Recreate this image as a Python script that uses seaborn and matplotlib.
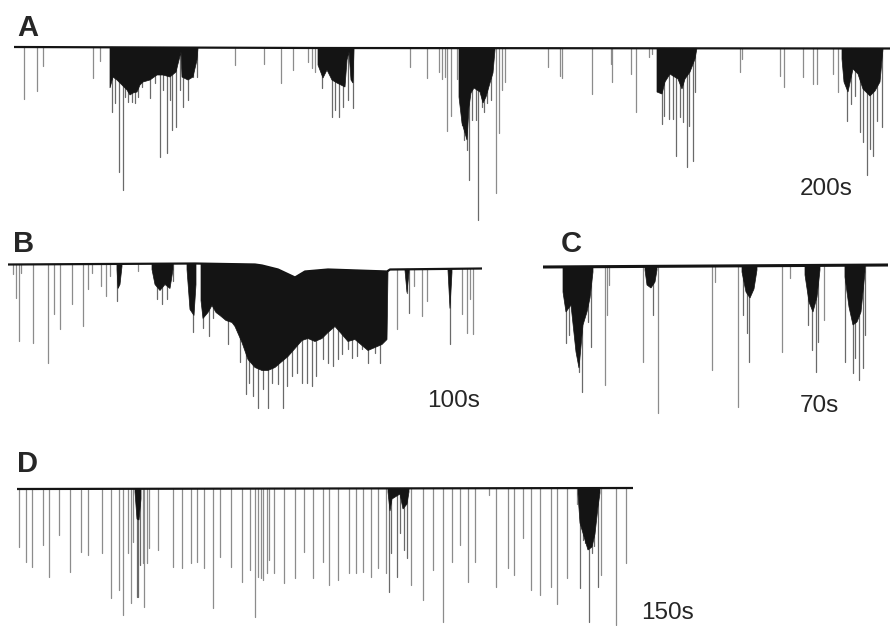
import numpy as np
import pandas as pd
import matplotlib
matplotlib.use("Agg")
import matplotlib.pyplot as plt
import seaborn as sns

# ---------------- data (time in trace units from sweep start, amplitude negative = inward) -------------
# Panel A
A_spike_t = [10, 23, 29, 79, 86,
             98, 101, 105, 109, 111, 114, 118, 121, 124, 128, 136, 141, 146, 149, 153, 156, 158, 162, 166, 169, 174, 179, 183,
             221, 250, 267, 279, 294, 298, 301,
             308, 318, 321, 325, 329, 334, 339,
             396, 413, 425, 428, 431, 433, 437, 443,
             448, 450, 453, 455, 458, 462, 464, 468, 470, 473, 477, 482, 485, 488, 491,
             534, 546, 548, 578, 597, 598, 617, 622, 635, 638,
             648, 650, 655, 659, 662, 666, 669, 673, 675, 679, 681,
             726, 728, 766, 770, 789, 799, 803, 819, 824,
             833, 837, 841, 846, 849, 853, 856, 859, 863, 868]
A_spike_amp = [-52, -44, -19, -31, -14,
               -65, -56, -125, -143, -50, -55, -55, -56, -50, -40, -51, -36, -110, -43, -106, -53, -83, -80, -43, -60, -53, -30, -30,
               -18, -17, -36, -23, -15, -21, -25,
               -41, -70, -63, -70, -60, -53, -61,
               -20, -31, -25, -32, -30, -84, -69, -32,
               -78, -93, -103, -133, -73, -73, -173, -60, -65, -56, -53, -146, -86, -43, -35,
               -20, -29, -31, -47, -17, -35, -27, -65, -10, -7,
               -77, -69, -72, -72, -109, -70, -75, -120, -79, -114, -45,
               -25, -12, -29, -40, -30, -37, -37, -27, -45,
               -74, -57, -49, -85, -95, -128, -102, -109, -74, -80]
A_burst_t = [[96, 99, 103, 108, 113, 116, 119, 123, 126, 129, 136, 143, 149, 156, 162, 165, 167, 168, 174, 179, 183, 184],
             [304, 309, 313, 318, 323, 327, 331, 333, 335, 337, 339, 340],
             [445, 448, 451, 453, 455, 457, 460, 463, 466, 469, 472, 476, 479, 481],
             [643, 648, 651, 656, 659, 664, 668, 671, 676, 681, 683],
             [828, 830, 834, 839, 844, 849, 856, 861, 866, 869]]
A_burst_amp = [[-41, -30, -33, -38, -43, -48, -46, -45, -38, -35, -33, -28, -28, -30, -25, -13, -5, -30, -33, -30, -13, -1],
               [-18, -31, -23, -33, -36, -38, -40, -13, -5, -33, -36, -3],
               [-50, -76, -86, -93, -60, -46, -41, -43, -45, -56, -50, -36, -26, -3],
               [-45, -47, -35, -27, -29, -32, -42, -32, -25, -12, -1],
               [-12, -35, -45, -22, -27, -42, -49, -44, -35, -2]]
A_base_t = [0, 300, 876]
A_base_amp = [0, -1, -1.5]

# Panel B
B_spike_t = [5, 8, 11, 13, 25, 40, 46, 52, 64, 75, 80, 84, 93, 98, 102, 109, 130, 149, 154, 159, 162, 165, 185,
             195, 201, 205, 212, 220, 224, 232, 238, 241, 245, 250, 255, 260, 264, 270, 275, 279, 284, 289, 294,
             299, 304, 308, 315, 320, 325, 330, 334, 340, 344, 349, 354, 360, 367, 372, 375,
             389, 399, 401, 406, 414, 419, 442, 454, 459, 462, 465]
B_spike_amp = [-9, -33, -76, -8, -78, -98, -49, -64, -39, -61, -24, -8, -21, -31, -11, -36, -6, -34, -39, -34, -16, -16, -67,
               -63, -71, -53, -46, -79, -53, -97, -129, -118, -131, -143, -124, -143, -118, -119, -143, -121, -111, -108, -118,
               -118, -121, -111, -94, -98, -101, -94, -89, -84, -93, -91, -84, -98, -88, -98, -74,
               -64, -28, -48, -21, -51, -36, -79, -49, -68, -34, -69]
B_burst_t = [[109, 110, 112, 114],
             [144, 147, 152, 157, 162, 165],
             [179, 182, 186, 188],
             [193, 195, 200, 204, 208, 212, 218, 224, 227, 234, 240, 247, 254, 260, 267, 274, 280, 287, 294, 300,
              307, 314, 320, 327, 334, 340, 347, 354, 360, 367, 374, 379, 380],
             [397, 399, 401],
             [440, 442, 444]]
B_burst_amp = [[-5, -24, -20, -2],
               [-5, -20, -26, -20, -24, -5],
               [-5, -45, -51, -20],
               [-36, -54, -48, -41, -48, -51, -56, -58, -62, -78, -95, -103, -106, -106, -103, -97, -92, -84, -76, -74,
                -77, -74, -68, -62, -70, -77, -75, -81, -86, -83, -80, -75, -8],
               [-6, -28, -8],
               [-6, -44, -8]]
B_base_t = [0, 187, 247, 254, 270, 287, 297, 320, 379, 382, 474]
B_base_amp = [0, 1, 0, -1, -5, -13, -7, -5, -7, -5, -4]

# Panel C
C_spike_t = [23, 26, 36, 39, 45, 48, 62, 64, 66, 100, 110, 115, 169, 172, 195, 200, 204, 206,
             239, 247, 265, 269, 273, 275, 281, 302, 310, 312, 316, 320, 322]
C_spike_amp = [-76, -68, -105, -125, -55, -80, -118, -48, -18, -95, -48, -146, -103, -15, -140, -48, -66, -95,
               -85, -11, -58, -83, -105, -75, -53, -95, -106, -91, -113, -101, -68]
C_burst_t = [[20, 23, 28, 33, 36, 40, 44, 47, 50],
             [102, 104, 108, 112, 114],
             [199, 203, 207, 211, 214],
             [262, 266, 270, 274, 277],
             [302, 306, 310, 314, 318, 322]]
C_burst_amp = [[-25, -45, -38, -85, -101, -58, -45, -31, -5],
               [-3, -18, -21, -15, -3],
               [-5, -25, -31, -22, -3],
               [-8, -35, -45, -30, -3],
               [-10, -40, -58, -55, -45, -5]]
C_base_t = [0, 170, 345]
C_base_amp = [0, 1, 2]

# Panel D
D_spike_t = [2, 9, 15, 26, 32, 42, 53, 64, 71, 85, 94, 102, 106, 111, 114, 116, 120, 121, 123, 126,
             127, 130, 132, 141, 156, 165, 174, 180, 187, 196, 203, 214, 225, 233, 238, 241, 244, 246, 250, 252,
             257, 267, 278, 287, 296,
             306, 312, 321, 332, 339, 346, 354, 361, 369, 372, 374, 380, 383, 387, 390, 394, 406, 416, 426, 435,
             443, 451, 458, 472, 479, 491, 497, 506, 514, 523, 534, 540, 550, 560, 563, 566, 568, 572, 575, 577,
             581, 584, 599, 609]
D_spike_amp = [-58, -73, -78, -56, -88, -46, -83, -63, -66, -64, -109, -101, -126, -64, -114, -53, -108, -108, -76, -74,
               -118, -74, -59, -61, -78, -79, -74, -73, -79, -119, -68, -78, -93, -81, -128, -88, -89, -91, -84, -71,
               -84, -94, -89, -63, -89,
               -73, -96, -91, -84, -84, -83, -88, -79, -84, -103, -64, -88, -44, -61, -69, -96, -111, -81, -133, -73,
               -56, -93, -73, -6, -98, -79, -86, -49, -101, -106, -98, -115, -89, -15, -99, -51, -54, -133, -64, -57,
               -98, -86, -136, -74]
D_burst_t = [[118, 120, 122, 124],
             [371, 373, 375, 383, 386, 390, 392],
             [561, 563, 568, 571, 575, 578, 581, 583]]
D_burst_amp = [[-3, -30, -31, -10],
               [-3, -22, -10, -5, -20, -15, -3],
               [-5, -34, -51, -61, -58, -45, -18, -4]]
D_base_t = [0, 616]
D_base_amp = [0, 1]

panel_labels = ["A", "B", "C", "D"]
scale_labels = ["200s", "100s", "70s", "150s"]

# ---------------- style ----------------
sns.set_style("white")
plt.rcParams["font.family"] = ["Liberation Sans", "DejaVu Sans"]

W, H = 892, 626
SPIKE_PALETTE = {"single": "#8c8c8c", "burst": "#6a6a6a"}
BLACK = "#141414"

fig = plt.figure(figsize=(W / 100, H / 100), dpi=100)
fig.patch.set_facecolor("white")


def make_axes(left, right, base, above=15, below=185):
    ax = fig.add_axes([left / W, 1 - (base + below) / H, (right - left) / W, (above + below) / H])
    ax.set_xlim(0, right - left)
    ax.set_ylim(-below, above)
    ax.axis("off")
    return ax


def draw_panel(ax, base_t, base_amp, spike_t, spike_amp, bursts_t, bursts_amp, lw_base=1.6):
    st = np.asarray(spike_t, dtype=float)
    in_burst = np.zeros(len(st), dtype=bool)
    for bt in bursts_t:
        in_burst |= (st >= bt[0]) & (st <= bt[-1])
    start = np.interp(st, base_t, base_amp)
    df = pd.DataFrame({
        "t": np.repeat(st, 2),
        "v": np.column_stack([start, spike_amp]).ravel(),
        "id": np.repeat(np.arange(len(st)), 2),
        "kind": np.repeat(np.where(in_burst, "burst", "single"), 2),
    })
    sns.lineplot(data=df, x="t", y="v", units="id", hue="kind", palette=SPIKE_PALETTE,
                 estimator=None, sort=False, lw=0.9, ax=ax, legend=False)
    bt_arr = np.asarray(base_t, dtype=float)
    for bt, ba in zip(bursts_t, bursts_amp):
        inside = (bt_arr > bt[0]) & (bt_arr < bt[-1])
        ut = [bt[0]] + list(bt_arr[inside]) + [bt[-1]]
        ua = list(np.interp(ut, base_t, base_amp))
        xs = list(bt) + ut[::-1]
        ys = list(ba) + ua[::-1]
        ax.fill(xs, ys, color=BLACK, lw=0.5, zorder=3)
    sns.lineplot(x=base_t, y=base_amp, color=BLACK, lw=lw_base, ax=ax,
                 legend=False, zorder=4)
    ax.set_xlabel("")
    ax.set_ylabel("")


axA = make_axes(14, 890, 47)
draw_panel(axA, A_base_t, A_base_amp, A_spike_t, A_spike_amp, A_burst_t, A_burst_amp)

axB = make_axes(8, 482, 264.5)
draw_panel(axB, B_base_t, B_base_amp, B_spike_t, B_spike_amp, B_burst_t, B_burst_amp)

axC = make_axes(543, 888, 267)
draw_panel(axC, C_base_t, C_base_amp, C_spike_t, C_spike_amp, C_burst_t, C_burst_amp, lw_base=2.2)

axD = make_axes(17, 633, 489)
draw_panel(axD, D_base_t, D_base_amp, D_spike_t, D_spike_amp, D_burst_t, D_burst_amp)

# ---------------- texts ----------------
label_pos = [(17, 36), (13, 252), (561, 252), (17, 472)]
scale_pos = [(800, 195), (427, 407), (800, 412), (641, 619)]
for s, (x, y) in zip(panel_labels, label_pos):
    fig.text(x / W, 1 - y / H, s, fontsize=21, fontweight="bold", ha="left", va="baseline")
for s, (x, y) in zip(scale_labels, scale_pos):
    fig.text(x / W, 1 - y / H, s, fontsize=17.5, ha="left", va="baseline")

fig.savefig("out.png", dpi=100, facecolor="white")
